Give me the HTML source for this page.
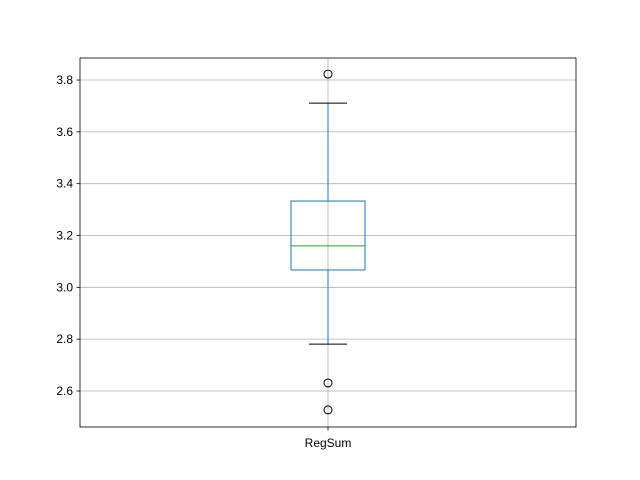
<!DOCTYPE html>
<html><head><meta charset="utf-8"><style>body{margin:0;background:#fff}svg{display:block}</style></head>
<body>
<svg id="chart" width="640" height="480" xmlns="http://www.w3.org/2000/svg" font-family="'Liberation Sans', 'DejaVu Sans', sans-serif"></svg>
<script>
const categories = ["RegSum"];
const whiskerLow = [2.781];
const q1 = [3.067];
const median = [3.16];
const q3 = [3.333];
const whiskerHigh = [3.711];
const outliers = [[3.823, 2.631, 2.527]];
const yTicks = [2.6, 2.8, 3.0, 3.2, 3.4, 3.6, 3.8];
const yTickLabels = ["2.6", "2.8", "3.0", "3.2", "3.4", "3.6", "3.8"];

const L = 80, R = 576, T = 58, B = 427;
const yMin = 2.461, yMax = 3.885;
const y = v => B - (v - yMin) / (yMax - yMin) * (B - T);
const x = i => L + (R - L) * (i + 0.5) / categories.length;
const NS = "http://www.w3.org/2000/svg";
const svg = document.getElementById("chart");
function mk(tag, attrs, parent) {
  const e = document.createElementNS(NS, tag);
  for (const k in attrs) e.setAttribute(k, attrs[k]);
  (parent || svg).appendChild(e);
  return e;
}
const bg = mk("rect", {x: L, y: T, width: R - L, height: B - T, fill: "#fff"});


// grid + y ticks
yTicks.forEach((t, k) => {
  const yy = y(t);
  const g = mk("line", {x1: L, x2: R, y1: yy, y2: yy, stroke: "#b0b0b0", "stroke-width": 0.8});
  
  
  const tk = mk("line", {x1: L - 3.5, x2: L, y1: yy, y2: yy, stroke: "#000", "stroke-width": 0.8});
  
  
  const tx = mk("text", {x: L - 7, y: yy + 4, "text-anchor": "end", "font-size": 12});
  tx.textContent = yTickLabels[k];
  
  
});
categories.forEach((c, i) => {
  const cx = x(i);
  const gl = mk("line", {x1: cx, x2: cx, y1: T, y2: B, stroke: "#b0b0b0", "stroke-width": 0.8});
  
  
  const tk = mk("line", {x1: cx, x2: cx, y1: B, y2: B + 3.5, stroke: "#000", "stroke-width": 0.8});
  
  
  const tx = mk("text", {x: cx, y: B + 20, "text-anchor": "middle", "font-size": 12});
  tx.textContent = c;
  
  
  const hw = 37, cw = 19;
  const w1 = mk("line", {x1: cx, x2: cx, y1: y(q1[i]), y2: y(whiskerLow[i]), stroke: "#1f77b4", "stroke-width": 1});
  
  
  const w2 = mk("line", {x1: cx, x2: cx, y1: y(q3[i]), y2: y(whiskerHigh[i]), stroke: "#1f77b4", "stroke-width": 1});
  
  
  const c1 = mk("line", {x1: cx - cw, x2: cx + cw, y1: y(whiskerLow[i]), y2: y(whiskerLow[i]), stroke: "#000", "stroke-width": 1});
  
  
  const c2 = mk("line", {x1: cx - cw, x2: cx + cw, y1: y(whiskerHigh[i]), y2: y(whiskerHigh[i]), stroke: "#000", "stroke-width": 1});
  
  
  const bx = mk("rect", {x: cx - hw, y: y(q3[i]), width: 2 * hw, height: y(q1[i]) - y(q3[i]), fill: "none", stroke: "#1f77b4", "stroke-width": 1});
  
  
  const md = mk("line", {x1: cx - hw, x2: cx + hw, y1: y(median[i]), y2: y(median[i]), stroke: "#2ca02c", "stroke-width": 1});
  
  
  outliers[i].forEach(v => {
    const o = mk("circle", {cx: cx, cy: y(v), r: 4, fill: "none", stroke: "#000", "stroke-width": 1});
    
    
  });
});
const fr = mk("rect", {x: L, y: T, width: R - L, height: B - T, fill: "none", stroke: "#000", "stroke-width": 0.8});


</script>
</body></html>
